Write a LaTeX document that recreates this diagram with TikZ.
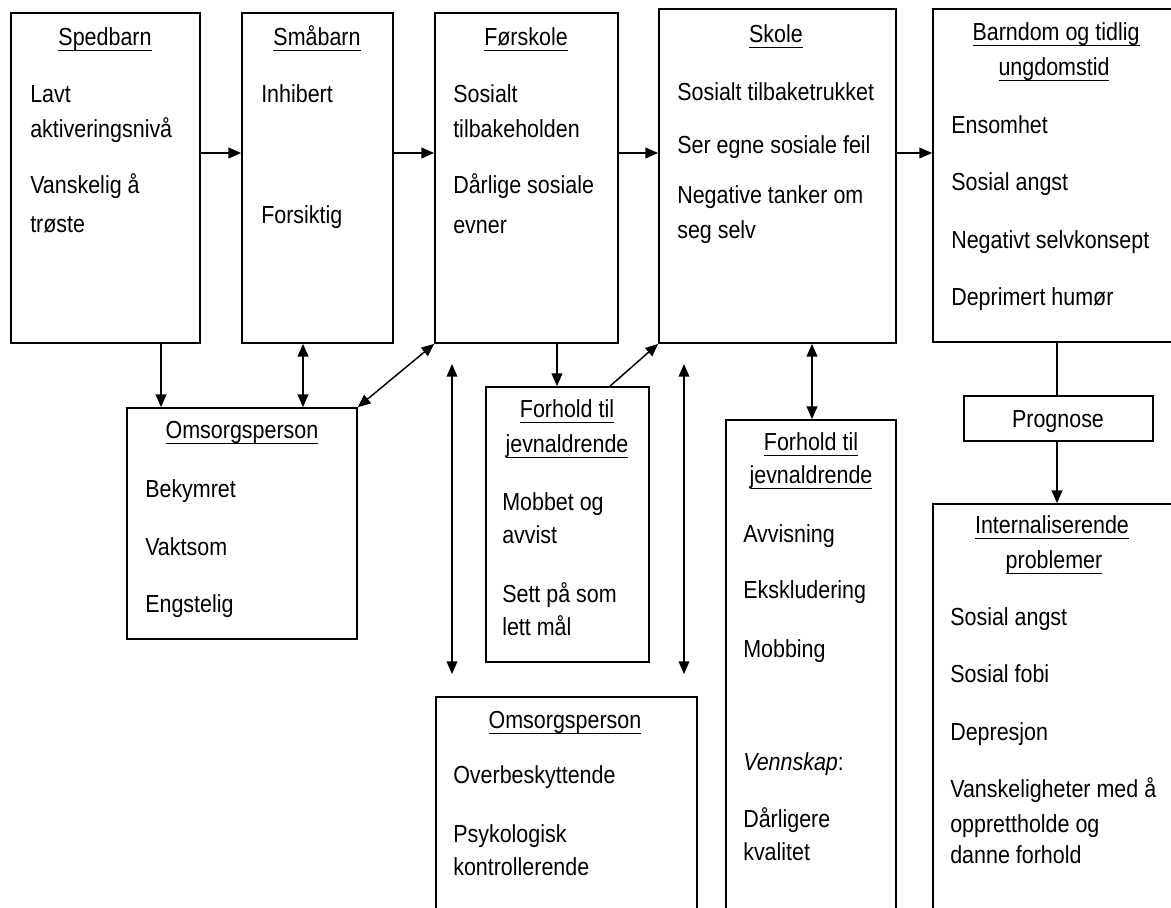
\documentclass[tikz,border=0pt]{standalone}
\usepackage{fontspec}
\setmainfont{Liberation Sans}[FakeStretch=0.87]
\usetikzlibrary{arrows.meta,fit}
\newcommand\ulx[1]{\setbox0\hbox{#1}\rlap{\rule[-4.6pt]{\wd0}{0.9pt}}\box0}
\begin{document}
\begin{tikzpicture}[x=0.75pt,y=-0.75pt,
  box/.style={draw,line width=1.3pt,inner sep=0pt,rectangle},
  txt/.style={inner sep=0pt,anchor=base west,font=\fontsize{18.5}{22}\selectfont},
  ttl/.style={txt,anchor=base},
  arr/.style={line width=1.1pt,-{Triangle[length=9.5pt,width=8pt]}},
  darr/.style={line width=1.1pt,{Triangle[length=9.5pt,width=8pt]}-{Triangle[length=9.5pt,width=8pt]}},
  plain/.style={line width=1.1pt}]
\useasboundingbox (0,0) rectangle (1171,907);
\clip (0,0) rectangle (1171,907);
% boxes
\node[box,fit={(11,13)(200,343)}] (sped) {};
\node[box,fit={(242,13)(393,343)}] (smaa) {};
\node[box,fit={(435,13)(618,343)}] (forsk) {};
\node[box,fit={(659,9)(896,343)}] (skole) {};
\node[box,fit={(933,9)(1176,342)}] (barn) {};
\node[box,fit={(127,408)(357,639)}] (oms1) {};
\node[box,fit={(486,387)(649,662)}] (for1) {};
\node[box,fit={(436,697)(697,913)}] (oms2) {};
\node[box,fit={(726,420)(896,913)}] (for2) {};
\node[box,fit={(964,396)(1153,441)}] (prog) {};
\node[box,fit={(933,504)(1176,913)}] (int) {};
% helper coordinates
\coordinate (h) at (0,153);
\coordinate (v1) at (161,0);
\coordinate (v2) at (303,0);
\coordinate (v3) at (557,0);
\coordinate (v4) at (610,0);
\coordinate (v5) at (812,0);
\coordinate (v6) at (1057,0);
\coordinate (a1) at (452,364);
\coordinate (a2) at (452,674);
\coordinate (b1) at (684,364);
\coordinate (b2) at (684,674);
% connectors
\draw[arr] (sped.east |- h) -- (smaa.west |- h);
\draw[arr] (smaa.east |- h) -- (forsk.west |- h);
\draw[arr] (forsk.east |- h) -- (skole.west |- h);
\draw[arr] (skole.east |- h) -- (barn.west |- h);
\draw[arr] (sped.south -| v1) -- (oms1.north -| v1);
\draw[darr] (smaa.south -| v2) -- (oms1.north -| v2);
\draw[darr] (oms1.north east) -- (forsk.south west);
\draw[arr] (forsk.south -| v3) -- (for1.north -| v3);
\draw[arr] (for1.north -| v4) -- (skole.south west);
\draw[darr] (a1) -- (a2);
\draw[darr] (b1) -- (b2);
\draw[darr] (skole.south -| v5) -- (for2.north -| v5);
\draw[plain] (barn.south -| v6) -- (prog.north -| v6);
\draw[arr] (prog.south -| v6) -- (int.north -| v6);
% Spedbarn
\node[ttl] (t01) at (105,45) {\ulx{Spedbarn}};
\node[txt] (t02) at (30,102) {Lavt};
\node[txt] (t03) at (30,137) {aktiveringsnivå};
\node[txt] (t04) at (30,193) {Vanskelig å};
\node[txt] (t05) at (30,232) {trøste};
% Småbarn
\node[ttl] (t06) at (317,45) {\ulx{Småbarn}};
\node[txt] (t07) at (261,102) {Inhibert};
\node[txt] (t08) at (261,223) {Forsiktig};
% Førskole
\node[ttl] (t09) at (526,45) {\ulx{Førskole}};
\node[txt] (t10) at (453,102) {Sosialt};
\node[txt] (t11) at (453,137) {tilbakeholden};
\node[txt] (t12) at (453,193) {Dårlige sosiale};
\node[txt] (t13) at (453,233) {evner};
% Skole
\node[ttl] (t14) at (776,42) {\ulx{Skole}};
\node[txt] (t15) at (677,100) {Sosialt tilbaketrukket};
\node[txt] (t16) at (677,153) {Ser egne sosiale feil};
\node[txt] (t17) at (677,203) {Negative tanker om};
\node[txt] (t18) at (677,238) {seg selv};
% Barndom
\node[ttl] (t19) at (1056,40) {\ulx{Barndom og tidlig}};
\node[ttl] (t20) at (1054,75) {\ulx{ungdomstid}};
\node[txt] (t21) at (951,133) {Ensomhet};
\node[txt] (t22) at (951,190) {Sosial angst};
\node[txt] (t23) at (951,248) {Negativt selvkonsept};
\node[txt] (t24) at (951,305) {Deprimert humør};
% Omsorgsperson 1
\node[ttl] (t25) at (242,438) {\ulx{Omsorgsperson}};
\node[txt] (t26) at (145,497) {Bekymret};
\node[txt] (t27) at (145,555) {Vaktsom};
\node[txt] (t28) at (145,612) {Engstelig};
% Forhold 1
\node[ttl] (t29) at (567,417) {\ulx{Forhold til}};
\node[ttl] (t30) at (567,452) {\ulx{jevnaldrende}};
\node[txt] (t31) at (502,510) {Mobbet og};
\node[txt] (t32) at (502,543) {avvist};
\node[txt] (t33) at (502,602) {Sett på som};
\node[txt] (t34) at (502,635) {lett mål};
% Omsorgsperson 2
\node[ttl] (t35) at (565,728) {\ulx{Omsorgsperson}};
\node[txt] (t36) at (453,783) {Overbeskyttende};
\node[txt] (t37) at (453,842) {Psykologisk};
\node[txt] (t38) at (453,875) {kontrollerende};
% Forhold 2
\node[ttl] (t39) at (811,450) {\ulx{Forhold til}};
\node[ttl] (t40) at (811,483) {\ulx{jevnaldrende}};
\node[txt] (t41) at (743,542) {Avvisning};
\node[txt] (t42) at (743,598) {Ekskludering};
\node[txt] (t43) at (743,657) {Mobbing};
\node[txt] (t44) at (743,770) {\textit{Vennskap}:};
\node[txt] (t45) at (743,827) {Dårligere};
\node[txt] (t46) at (743,860) {kvalitet};
% Prognose
\node[ttl] (t47) at (1058,427) {Prognose};
% Internaliserende
\node[ttl] (t48) at (1052,533) {\ulx{Internaliserende}};
\node[ttl] (t49) at (1054,568) {\ulx{problemer}};
\node[txt] (t50) at (950,625) {Sosial angst};
\node[txt] (t51) at (950,682) {Sosial fobi};
\node[txt] (t52) at (950,740) {Depresjon};
\node[txt] (t53) at (950,797) {Vanskeligheter med å};
\node[txt] (t54) at (950,832) {opprettholde og};
\node[txt] (t55) at (950,863) {danne forhold};
\end{tikzpicture}
\end{document}
